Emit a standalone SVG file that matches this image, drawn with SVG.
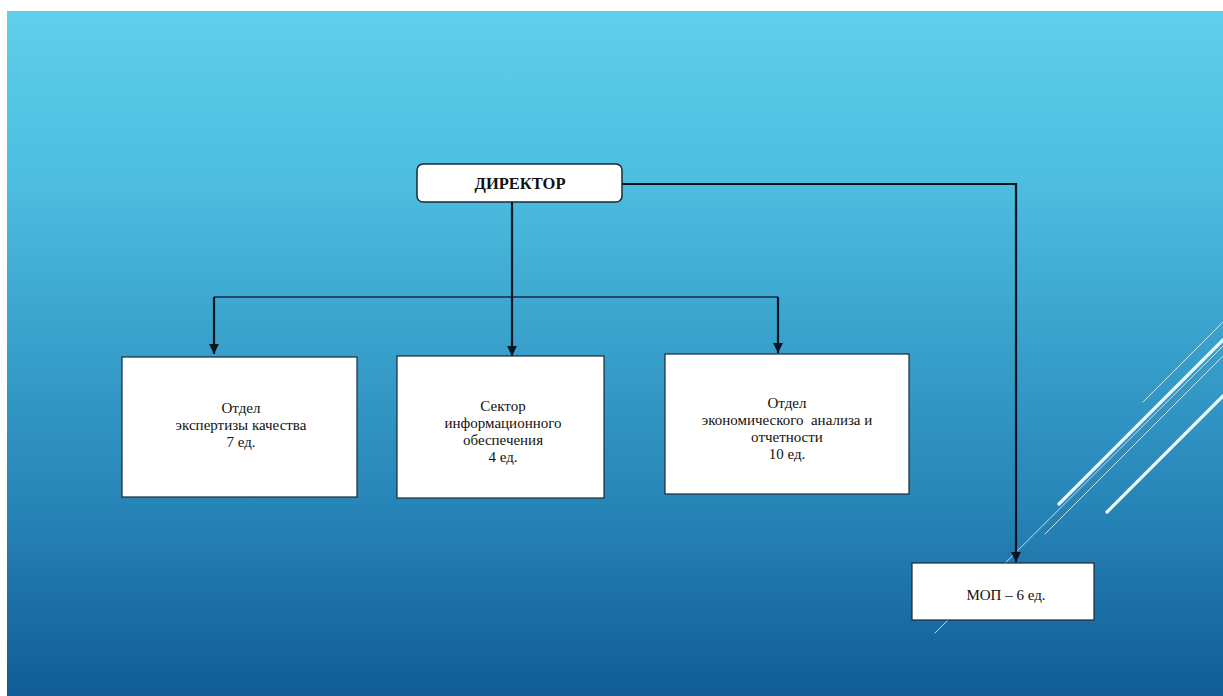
<svg xmlns="http://www.w3.org/2000/svg" width="1223" height="696" viewBox="0 0 1223 696">
<defs>
<linearGradient id="bg" x1="0" y1="0" x2="0" y2="1">
<stop offset="0" stop-color="#5fcfeb"/>
<stop offset="0.25" stop-color="#4dbde0"/>
<stop offset="0.5" stop-color="#379fca"/>
<stop offset="0.75" stop-color="#2581b4"/>
<stop offset="1" stop-color="#115c96"/>
</linearGradient>
<marker id="arr" viewBox="0 0 10 10" refX="10" refY="5" markerWidth="4.5" markerHeight="4.5" markerUnits="strokeWidth" orient="auto">
<path d="M0,0 L10,5 L0,10 z" fill="#0a1420"/>
</marker>
<style>
.box{fill:#ffffff;stroke:#1c2838;stroke-width:1.2}
.t{font-size:15px;fill:#111;text-anchor:middle}
.main{stroke:#0a1420;stroke-width:2.2;fill:none}
.bus{stroke:#1a2a40;stroke-width:1.3;fill:none}
.deco{stroke:#e8f8ff;fill:none;stroke-linecap:round}
</style>
</defs>
<rect x="0" y="0" width="1223" height="696" fill="#ffffff"/>
<rect x="7" y="11" width="1216" height="685" fill="url(#bg)"/>
<g id="decor">
<line class="deco" x1="1059" y1="504" x2="1223" y2="340" stroke-width="3.2"/>
<line class="deco" x1="1107" y1="512" x2="1223" y2="396" stroke-width="3.2"/>
<line class="deco" x1="1143" y1="402" x2="1223" y2="322" stroke-width="1" opacity="0.8"/>
<line class="deco" x1="935" y1="633" x2="1223" y2="346" stroke-width="1" opacity="0.8"/>
<line class="deco" x1="1045" y1="534" x2="1223" y2="356" stroke-width="1" opacity="0.8"/>
</g>
<g id="connectors">
<path class="bus" d="M214,297 H778"/>
<path class="main" d="M214,297 V354" marker-end="url(#arr)"/>
<path class="main" d="M512,202 V356" marker-end="url(#arr)"/>
<path class="main" d="M778,297 V353" marker-end="url(#arr)"/>
<path class="main" d="M622,184 H1016 V562" marker-end="url(#arr)"/>
</g>
<g font-family="'Liberation Serif', 'DejaVu Serif', 'Times New Roman', serif">
<g id="director">
<rect x="417" y="164" width="205" height="38" rx="6" ry="6" fill="#ffffff" stroke="#1c2838" stroke-width="1.5"/>
<text x="520" y="189" class="t" font-size="16.5" font-weight="bold" style="font-size:16.5px">ДИРЕКТОР</text>
</g>
<g id="dept-quality">
<rect class="box" x="122" y="357" width="235" height="140"/>
<text class="t" x="241" y="413">Отдел</text>
<text class="t" x="241" y="430">экспертизы качества</text>
<text class="t" x="241" y="447">7 ед.</text>
</g>
<g id="sector-info">
<rect class="box" x="397" y="356" width="207" height="142"/>
<text class="t" x="503" y="411">Сектор</text>
<text class="t" x="503" y="428">информационного</text>
<text class="t" x="503" y="445">обеспечения</text>
<text class="t" x="503" y="462">4 ед.</text>
</g>
<g id="dept-econ">
<rect class="box" x="665" y="354" width="244" height="140"/>
<text class="t" x="787" y="408">Отдел</text>
<text class="t" x="787" y="425" xml:space="preserve">экономического  анализа и</text>
<text class="t" x="787" y="442">отчетности</text>
<text class="t" x="787" y="459">10 ед.</text>
</g>
<g id="mop">
<rect class="box" x="912" y="563" width="182" height="57"/>
<text class="t" x="1006" y="600">МОП – 6 ед.</text>
</g>
</g>
</svg>
